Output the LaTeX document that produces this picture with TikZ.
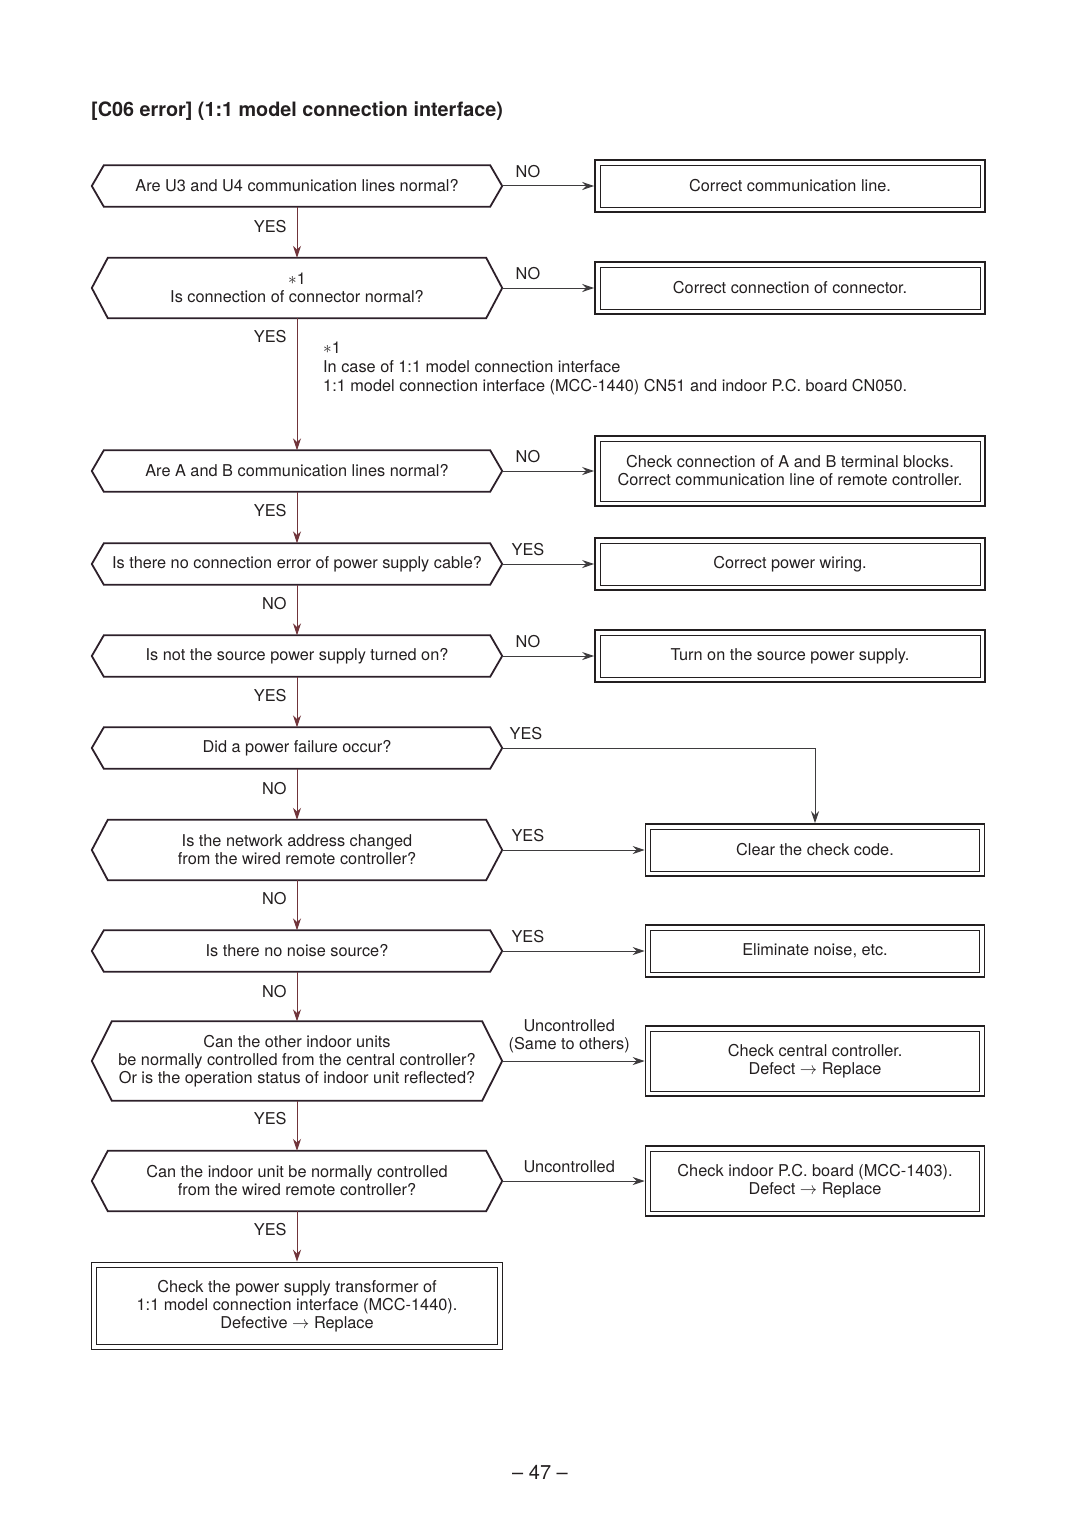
\documentclass[tikz,border=0pt]{standalone}
\usepackage{fontspec}
\setmainfont{TeX Gyre Heros}
\usetikzlibrary{arrows.meta,positioning}

\definecolor{ink}{RGB}{35,31,32}
\definecolor{hexline}{RGB}{45,32,42}
\definecolor{downline}{RGB}{112,52,58}
\definecolor{sideline}{RGB}{62,60,62}

\begin{document}
\begin{tikzpicture}[x=1pt, y=-1pt, font=\fontsize{16.3}{18}\selectfont, text=ink,
  dec/.style={minimum width=410pt, minimum height=41pt, align=center, inner sep=0pt},
  fix/.style={draw=ink, line width=1.6pt, minimum width=390pt, minimum height=52pt, align=center,
    path picture={\draw[ink, line width=0.6pt] ([shift={(5,5)}]path picture bounding box.north west)
      rectangle ([shift={(-5,-5)}]path picture bounding box.south east);}},
  down/.style={draw=downline, line width=1pt, -{Stealth[length=12pt, width=8pt]}},
  side/.style={draw=sideline, line width=1pt, -{Stealth[length=12pt, width=8pt]}},
  ans/.style={inner sep=2pt, text=ink}]

\useasboundingbox (0,0) rectangle (1080,1525);

\node[anchor=west, inner sep=0pt, font=\fontsize{19.8}{22}\selectfont\bfseries] (title) at (91,111) {[C06 error] (1:1 model connection interface)};

% questions
\node[dec] (q1) at (297,186) {Are U3 and U4 communication lines normal?};
\node[dec, minimum height=60pt] (q2) at (297,288) {$\ast$1\\Is connection of connector normal?};
\node[dec] (q3) at (297,471) {Are A and B communication lines normal?};
\node[dec] (q4) at (297,564) {Is there no connection error of power supply cable?};
\node[dec] (q5) at (297,656) {Is not the source power supply turned on?};
\node[dec] (q6) at (297,748) {Did a power failure occur?};
\node[dec, minimum height=60pt] (q7) at (297,850) {Is the network address changed\\from the wired remote controller?};
\node[dec] (q8) at (297,951) {Is there no noise source?};
\node[dec, minimum height=79pt] (q9) at (297,1061) {Can the other indoor units\\be normally controlled from the central controller?\\Or is the operation status of indoor unit reflected?};
\node[dec, minimum height=60pt] (q10) at (297,1181) {Can the indoor unit be normally controlled\\from the wired remote controller?};

\foreach \n/\i in {q1/12, q2/16, q3/12, q4/12, q5/12, q6/12, q7/16, q8/12, q9/20, q10/16}
  \draw[hexline, line width=1.8pt, line join=miter] (\n.west) -- ([xshift=\i]\n.north west) -- ([xshift=-\i]\n.north east)
    -- (\n.east) -- ([xshift=-\i]\n.south east) -- ([xshift=\i]\n.south west) -- cycle;

% remedies
\node[fix] (r1) at (790,186) {Correct communication line.};
\node[fix] (r2) at (790,288) {Correct connection of connector.};
\node[fix, minimum height=70pt] (r3) at (790,471) {Check connection of A and B terminal blocks.\\Correct communication line of remote controller.};
\node[fix] (r4) at (790,564) {Correct power wiring.};
\node[fix] (r5) at (790,656) {Turn on the source power supply.};
\node[fix, minimum width=339pt] (r6) at (815,850) {Clear the check code.};
\node[fix, minimum width=339pt] (r7) at (815,951) {Eliminate noise, etc.};
\node[fix, minimum width=339pt, minimum height=70pt] (r8) at (815,1061) {Check central controller.\\Defect $\rightarrow$ Replace};
\node[fix, minimum width=339pt, minimum height=70pt] (r9) at (815,1181) {Check indoor P.C. board (MCC-1403).\\Defect $\rightarrow$ Replace};
\node[fix, minimum width=411pt, minimum height=87pt] (last) at (297,1306) {Check the power supply transformer of\\1:1 model connection interface (MCC-1440).\\Defective $\rightarrow$ Replace};

\node[anchor=north west, align=left, inner sep=0pt, font=\fontsize{16.3}{19}\selectfont] (note) at (323,342)
  {$\ast$1\\In case of 1:1 model connection interface\\1:1 model connection interface (MCC-1440) CN51 and indoor P.C. board CN050.};

\node[font=\fontsize{20}{22}\selectfont] (page) at (540,1472) {-- 47 --};

% main line
\draw[down] (q1) -- node[ans, left=8pt, pos=0.38] {YES} (q2);
\draw[down] (q2) -- node[ans, left=8pt, pos=0.14] {YES} (q3);
\draw[down] (q3) -- node[ans, left=8pt, pos=0.37] {YES} (q4);
\draw[down] (q4) -- node[ans, left=8pt, pos=0.38] {NO} (q5);
\draw[down] (q5) -- node[ans, left=8pt, pos=0.38] {YES} (q6);
\draw[down] (q6) -- node[ans, left=8pt, pos=0.38] {NO} (q7);
\draw[down] (q7) -- node[ans, left=8pt, pos=0.36] {NO} (q8);
\draw[down] (q8) -- node[ans, left=8pt, pos=0.4] {NO} (q9);
\draw[down] (q9) -- node[ans, left=8pt, pos=0.36] {YES} (q10);
\draw[down] (q10) -- node[ans, left=8pt, pos=0.36] {YES} (last);

% branches
\draw[side] (q1) -- node[ans, above=6pt, pos=0.28] {NO} (r1);
\draw[side] (q2) -- node[ans, above=6pt, pos=0.28] {NO} (r2);
\draw[side] (q3) -- node[ans, above=6pt, pos=0.28] {NO} (r3);
\draw[side] (q4) -- node[ans, above=6pt, pos=0.28] {YES} (r4);
\draw[side] (q5) -- node[ans, above=6pt, pos=0.28] {NO} (r5);
\draw[side] (q6) -| node[ans, above=6pt, pos=0.038] {YES} (r6);
\draw[side] (q7) -- node[ans, above=6pt, pos=0.18] {YES} (r6);
\draw[side] (q8) -- node[ans, above=6pt, pos=0.18] {YES} (r7);
\draw[side] (q9) -- node[ans, above=6pt, pos=0.47, align=center] {Uncontrolled\\(Same to others)} (r8);
\draw[side] (q10) -- node[ans, above=6pt, pos=0.47] {Uncontrolled} (r9);

\end{tikzpicture}
\end{document}
